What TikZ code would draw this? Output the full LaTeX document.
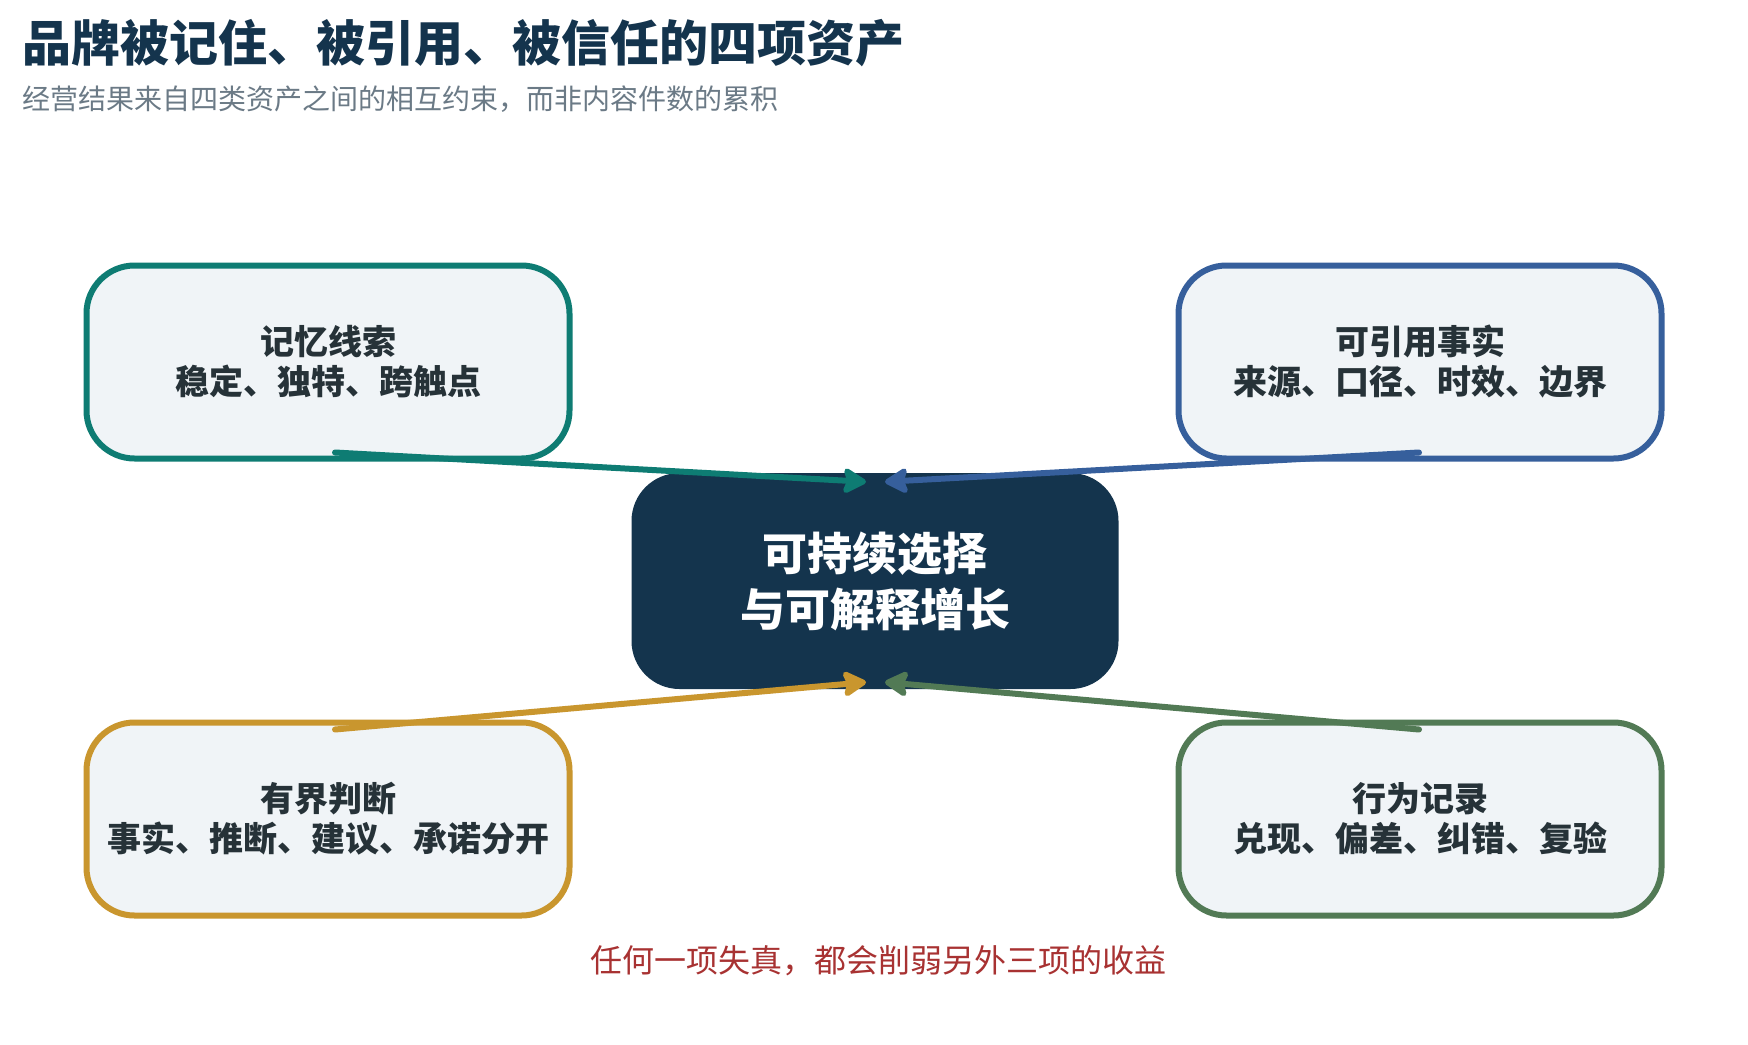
\documentclass[tikz,border=0pt]{standalone}
\usepackage{fontspec}
\setmainfont{Noto Sans CJK SC}
\usetikzlibrary{arrows.meta}
\definecolor{navy}{HTML}{14344D}
\definecolor{ink}{HTML}{263238}
\definecolor{greytxt}{HTML}{6B7A86}
\definecolor{cardbg}{HTML}{F0F4F7}
\definecolor{tealc}{HTML}{0E7C73}
\definecolor{bluec}{HTML}{365F9C}
\definecolor{goldc}{HTML}{C9962E}
\definecolor{greenc}{HTML}{527A55}
\definecolor{redtxt}{HTML}{A83232}

\begin{document}
\begin{tikzpicture}[x=1pt,y=-1pt]
\tikzset{card/.style={draw, line width=6pt, fill=cardbg, rounded corners=48pt,
    minimum width=483pt, minimum height=193pt, align=center, text=ink,
    font=\bfseries\fontsize{34}{40}\selectfont},
  link/.style={line width=6pt, line cap=round,
    -{Stealth[length=27pt,width=30pt,inset=5pt,round]}}}
\useasboundingbox[fill=white] (0,0) rectangle (1748,1044);
% heading
\node[anchor=west, inner sep=0, text=navy, font=\bfseries\fontsize{49}{56}\selectfont] (title) at (22,43) {品牌被记住、被引用、被信任的四项资产};
\node[anchor=west, inner sep=0, text=greytxt, font=\fontsize{28}{32}\selectfont] (sub) at (22,99) {经营结果来自四类资产之间的相互约束，而非内容件数的累积};
% four assets
\node[card, draw=tealc] (mem) at (328,362) {记忆线索\\稳定、独特、跨触点};
\node[card, draw=bluec] (fact) at (1420,362) {可引用事实\\来源、口径、时效、边界};
\node[card, draw=goldc] (judge) at (328,819) {有界判断\\事实、推断、建议、承诺分开};
\node[card, draw=greenc] (act) at (1420,819) {行为记录\\兑现、偏差、纠错、复验};
% core
\node[fill=navy, rounded corners=48pt, minimum width=487pt, minimum height=216pt,
  align=center, text=white, font=\bfseries\fontsize{45}{56}\selectfont] (core) at (875,581) {可持续选择\\与可解释增长};
\node[text=redtxt, font=\fontsize{32}{36}\selectfont] (note) at (878,961) {任何一项失真，都会削弱另外三项的收益};
% links
\coordinate (memtail) at ([xshift=7pt,yshift=9pt]mem.south);
\coordinate (facttail) at ([xshift=-1pt,yshift=9pt]fact.south);
\coordinate (judgetail) at ([xshift=7pt,yshift=-10pt]judge.north);
\coordinate (acttail) at ([xshift=-1pt,yshift=-10pt]act.north);
\coordinate (tipnw) at ([xshift=-9pt,yshift=-9pt]core.north);
\coordinate (tipne) at ([xshift=10pt,yshift=-9pt]core.north);
\coordinate (tipsw) at ([xshift=-9pt,yshift=7pt]core.south);
\coordinate (tipse) at ([xshift=10pt,yshift=7pt]core.south);
\draw[link, tealc] (memtail) -- (tipnw);
\draw[link, bluec] (facttail) -- (tipne);
\draw[link, goldc] (judgetail) -- (tipsw);
\draw[link, greenc] (acttail) -- (tipse);
\end{tikzpicture}
\end{document}
